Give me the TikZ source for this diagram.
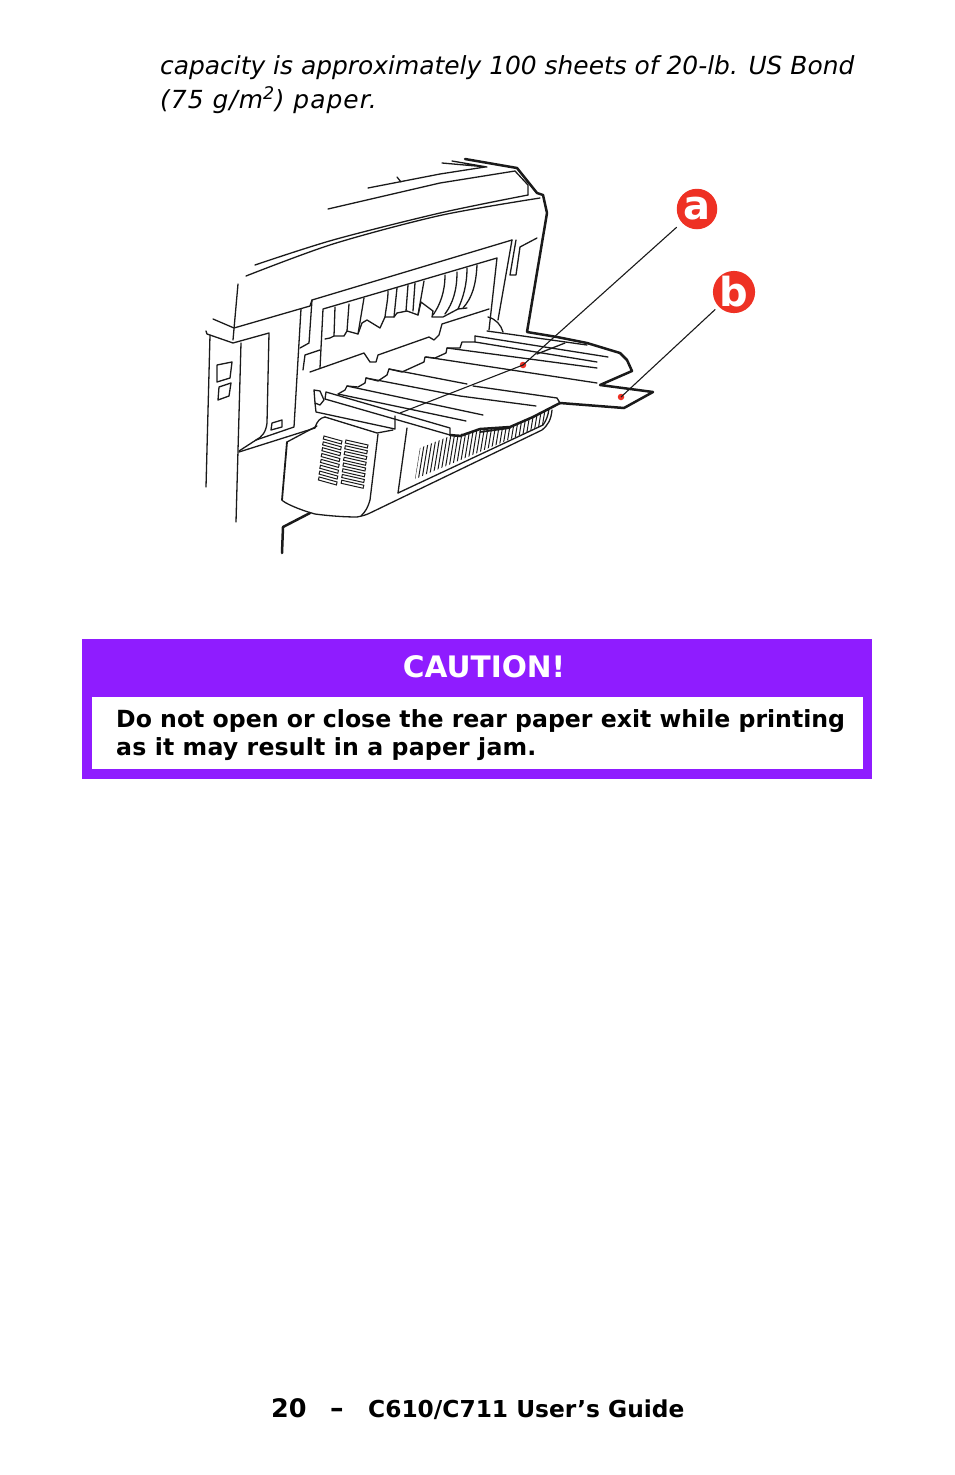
\documentclass[tikz,border=0pt]{standalone}
\usepackage{fontspec}
\setmainfont{DejaVu Sans}
\definecolor{banner}{HTML}{8F1CFF}
\definecolor{callout}{HTML}{EE3124}
\definecolor{ink}{HTML}{1A1A1A}
\tikzset{
  thinl/.style={draw=ink,line width=1.3pt,line join=round,line cap=round},
  thickl/.style={draw=ink,line width=2.5pt,line join=round,line cap=round},
  bodyit/.style={inner sep=0pt,anchor=base west,font=\fontsize{24.9}{30}\selectfont\itshape},
  bodybf/.style={inner sep=0pt,anchor=base west,font=\fontsize{23.6}{30}\selectfont\bfseries},
  callcircle/.style={circle,fill=callout,minimum size=40.5pt,inner sep=0pt,text=white,font=\fontsize{40}{40}\selectfont\bfseries},
  reddot/.style={circle,fill=callout,minimum size=6.5pt,inner sep=0pt},
  lead/.style={draw=ink,line width=1.1pt},
  vent/.style={draw=ink,line width=1pt}
}
\begin{document}
\begin{tikzpicture}[x=1pt,y=-1pt]
\useasboundingbox (0,0) rectangle (954,1475);
% page text
\node[bodyit] (l1) at (160,74.5) {capacity is approximately 100 sheets of 20-lb. US Bond};
\node[bodyit] (l2) at (160,108.5) {\addfontfeature{LetterSpace=4.2}(75 g/m\textsuperscript{2}) paper.};
% banner
\fill[banner] (82,639) rectangle (872,779);
\fill[white] (92,697) rectangle (863,769);
\node[inner sep=0pt,anchor=base,text=white,font=\fontsize{29.6}{30}\selectfont\bfseries] (cau) at (484,677) {CAUTION!};
\node[bodybf] (c1) at (116,727) {Do not open or close the rear paper exit while printing};
\node[bodybf] (c2) at (116,755) {\addfontfeature{LetterSpace=0.8}as it may result in a paper jam.};
% footer
\node[inner sep=0pt,anchor=base west,font=\fontsize{25.5}{30}\selectfont\bfseries] (pg) at (271,1417.5) {20};
\node[inner sep=0pt,anchor=base west,font=\fontsize{27}{30}\selectfont\bfseries] (dash) at (330,1417.5) {–};
\node[inner sep=0pt,anchor=base west,font=\fontsize{23.3}{30}\selectfont\bfseries] (ttl) at (368,1417.5) {C610/C711 User’s Guide};
% --- printer: roof
\draw[thinl] (368,188) -- (440,174) -- (485,167);
\draw[thinl] (397,177) -- (401,182);
\draw[thinl] (328,209) -- (440,183) -- (515,171) -- (528,185) -- (528,195);
\draw[thinl] plot[smooth] coordinates {(255,265) (333,240) (440,213) (528,195)};
\draw[thinl] plot[smooth] coordinates {(246,276) (333,244) (440,215.5) (540,198)};
\draw[thinl] (442,163) -- (487,167) -- (452,161);
\draw[thickl] (465,159) -- (517,168) -- (537,193) -- (543,195) -- (547,213) -- (527,332) -- (557,337) -- (587,343) -- (620,353) -- (627,360) -- (632,371) -- (600,385) -- (653,392) -- (624,408) -- (560,403);
% --- left body
\draw[thinl] (238,284) -- (233,340);
\draw[thinl] (213,319) -- (234,328) -- (310,306) -- (312,300) -- (512,240);
\draw[thinl] (206,331) -- (207,334) -- (233,343) -- (269,333) -- (267,423) .. controls (266,432) and (262,437) .. (256,440) -- (239,451);
\draw[thinl] (210,335) -- (206,487);
\draw[thinl] (241,343) -- (236,522);
\draw[thinl] (301,309) -- (294,427) -- (256,440);
\draw[thinl] (312,300) -- (309,343) -- (300,348);
\draw[thinl] (303,370) -- (305,355) -- (320,350);
\draw[thinl] (217,365) -- (232,362) -- (230,378) -- (217,382) -- cycle;
\draw[thinl] (219,387) -- (231,383) -- (229,396) -- (218,400) -- cycle;
\draw[thinl] (272,423) -- (282,420) -- (282,427) -- (271,430) -- cycle;
% --- rear frame
\draw[thinl] (320,368) -- (323,309) -- (497,258) -- (489,330);
\draw[thinl] (512,240) -- (498,320);
\draw[thinl] (516,240) -- (510,275) -- (516,275) -- (520,247) -- (537,238);
\draw[thinl] (488,317) .. controls (496,319) and (501,325) .. (503,332);
\draw[thinl] (310,372) -- (364,353) -- (370,362) -- (376,362) -- (378,355) -- (429,337) -- (434,340) -- (439,335) -- (442,324) -- (489,309);
% --- fuser flap
\draw[thinl] (325,339) -- (330,338) -- (334,336) -- (344,336) -- (347,331) -- (358,334) -- (362,323) -- (367,320) -- (380,328) -- (385,317) -- (394,317) -- (397,313) -- (407,311) -- (418,315) -- (421,302) -- (433,311) -- (432,317) -- (443,317) -- (458,309) -- (467,308);
\draw[thinl] (335,307) -- (334,336);
\draw[thinl] (349,304) -- (347,331);
\draw[thinl] (364,298) -- (358,334);
\draw[thinl] (388,291) .. controls (388,300) and (386,308) .. (385,317);
\draw[thinl] (397,288) -- (394,317);
\draw[thinl] (408,285) -- (406,311);
\draw[thinl] (415,283) -- (413,311);
\draw[thinl] (424,281) -- (418,315);
\draw[thinl] (445,275) .. controls (445,292) and (440,305) .. (433,315);
\draw[thinl] (457,272) .. controls (457,290) and (453,303) .. (445,314);
\draw[thinl] (467,268) .. controls (467,285) and (463,298) .. (458,309);
\draw[thinl] (477,265) .. controls (476,285) and (472,298) .. (463,308);
% --- tray steps
\draw[thinl] (338,394) -- (345,390) -- (347,386) -- (358,387) -- (365,383) -- (366,378) -- (378,381) -- (387,375) -- (389,369) -- (402,372) -- (424,362) -- (425,357) -- (435,358) -- (446,353) -- (447,348) -- (460,348) -- (462,342) -- (475,342) -- (475,336);
\draw[thinl] (475,336) -- (608,357);
\draw[thinl] (475,342) -- (597,362);
\draw[thinl] (447,348) -- (597,368);
\draw[thinl] (426,357) -- (597,383);
\draw[thinl] (487,331) -- (587,345);
\draw[thinl] (537,354) -- (565,343);
\draw[thinl] (389,369) -- (467,384);
\draw[thinl] (366,378) -- (460,396) -- (536,406);
\draw[thinl] (473,386) -- (557,398) -- (560,403);
\draw[thinl] (347,386) -- (483,415);
\draw[thinl] (338,394) -- (466,421);
% --- front bar
\draw[thinl] (326,392) -- (450,428) -- (450,435) -- (325,399) -- cycle;
\draw[thinl] (315,403) -- (316,412) -- (395,429) -- (395,416);
\draw[thinl,fill=white] (314,390) -- (320,391) -- (324,400) -- (320,405) -- (315,403) -- cycle;
% --- side box
\draw[thinl] (325,417) .. controls (320,418) and (317,421) .. (315,428) -- (239,452);
\draw[thinl] (287,442) -- (317,426);
\draw[thinl] (282,500) .. controls (284,503) and (300,510) .. (315,514) .. controls (330,516) and (345,517) .. (357,517) .. controls (362,516) and (366,515) .. (370,513) -- (542,430) .. controls (548,425) and (551,420) .. (552,410);
\draw[thinl] (398,493) -- (543,425) .. controls (546,421) and (548,416) .. (549,409);
\draw[thinl] (325,417) -- (377,433) -- (393,430);
\draw[thinl] (378,434) -- (370,500) .. controls (368,507) and (366,511) .. (361,516);
\draw[thinl] (407,428) -- (398,493);
\draw[thickl,line width=1.8pt] (287,442) -- (282,500);
\draw[thickl] (310,513) -- (283,527) -- (282,553);
% --- vents
\foreach \i in {0,...,7} {
  \draw[vent] ({324-0.7*\i},{436+5.85*\i}) -- ({342-0.7*\i},{441+5.85*\i}) -- ({341.3-0.7*\i},{444+5.85*\i}) -- ({323.3-0.7*\i},{439+5.85*\i}) -- cycle;
  \draw[vent] ({346-0.6*\i},{440+5.75*\i}) -- ({368-0.6*\i},{445+5.75*\i}) -- ({367.3-0.6*\i},{448+5.75*\i}) -- ({345.3-0.6*\i},{443+5.75*\i}) -- cycle;
}
% --- hatch
\begin{scope}
\clip (415,479) -- (420,448) -- (450,436) -- (480,430) -- (510,427) -- (533,417) -- (547,411) -- (544,425) -- cycle;
\foreach \h in {0,...,38} {
  \draw[draw=ink,line width=1pt] ({413+3.6*\h},{490}) -- ({413+3.6*\h+14},{405});
}
\end{scope}
\draw[thickl] (450,435) -- (460,436) -- (480,429) -- (510,427) -- (533,417) -- (560,403);
\draw[thickl,line width=1.8pt] (480,432) -- (510,428);
% --- callouts
\node[callcircle,outer sep=7pt] (a) at (697,209) {a};
\node[callcircle,outer sep=4.5pt] (b) at (734,292) {b};
\node[reddot] (dota) at (523,365) {};
\node[reddot] (dotb) at (621,397) {};
\coordinate (aend) at (400,413);
\draw[lead] (a) -- (dota.center) -- (aend);
\draw[lead] (b) -- (dotb.center);
\end{tikzpicture}
\end{document}
